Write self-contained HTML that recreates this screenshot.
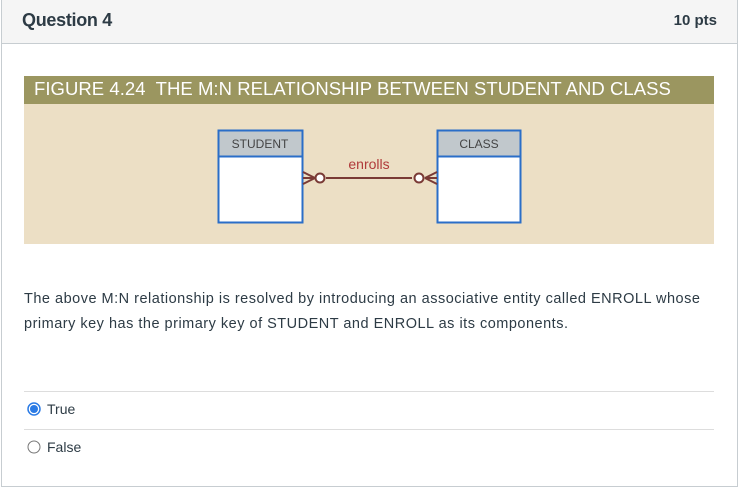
<!DOCTYPE html>
<html><head><style>
body{margin:0;width:741px;height:488px;background:#fff;font-family:"Liberation Sans",sans-serif;position:relative;overflow:hidden}
.frame{position:absolute;left:1px;top:0;width:735px;height:486px;border:1px solid #c7cdd1;border-top:none;box-sizing:content-box}
.hdr{position:absolute;left:0;top:0;width:735px;height:43px;background:#f5f5f5;border-bottom:1px solid #c7cdd1}
.abs{position:absolute}
</style></head><body>
<div class="frame">
 <div class="hdr">
  <div class="abs" style="left:20px;top:10px;font-size:18px;font-weight:bold;color:#2d3b45;letter-spacing:-0.3px">Question 4</div>
  <div class="abs" style="right:20px;top:12px;font-size:15px;font-weight:bold;color:#2d3b45">10 pts</div>
 </div>
</div>
<div class="abs" style="left:24px;top:76px;width:690px;height:28px;background:#9b9660"></div>
<div class="abs" style="left:34px;top:78px;font-size:18.5px;color:#fff;letter-spacing:0.05px;white-space:nowrap">FIGURE 4.24&nbsp; THE M:N RELATIONSHIP BETWEEN STUDENT AND CLASS</div>
<div class="abs" style="left:24px;top:104px;width:690px;height:140px;background:#ecdfc5"></div>
<svg class="abs" style="left:0;top:0" width="741" height="488">
 <rect x="218.5" y="130.5" width="84" height="92" fill="#fff" stroke="#2a6ec8" stroke-width="2"/>
 <rect x="218.5" y="130.5" width="84" height="26" fill="#c1c8cc" stroke="#2a6ec8" stroke-width="2"/>
 <text x="260" y="148" font-size="12" text-anchor="middle" fill="#444" font-family="Liberation Sans">STUDENT</text>
 <rect x="437.5" y="130.5" width="83" height="92" fill="#fff" stroke="#2a6ec8" stroke-width="2"/>
 <rect x="437.5" y="130.5" width="83" height="26" fill="#c1c8cc" stroke="#2a6ec8" stroke-width="2"/>
 <text x="479" y="148" font-size="12" text-anchor="middle" fill="#444" font-family="Liberation Sans">CLASS</text>
 <g stroke="#7a3a35" stroke-width="2" fill="none">
  <line x1="326" y1="178" x2="412" y2="178"/>
  <line x1="303" y1="178" x2="315" y2="178"/>
  <line x1="303" y1="172" x2="315" y2="178"/><line x1="303" y1="184" x2="315" y2="178"/>
  <circle cx="320" cy="178" r="4.5" fill="#fff"/>
  <line x1="425" y1="178" x2="437" y2="178"/>
  <line x1="437" y1="172" x2="425" y2="178"/><line x1="437" y1="184" x2="425" y2="178"/>
  <circle cx="419" cy="178" r="4.5" fill="#fff"/>
 </g>
 <text x="369" y="169" font-size="14" text-anchor="middle" fill="#b03a3a" font-family="Liberation Sans">enrolls</text>
 <line x1="24" y1="391.5" x2="714" y2="391.5" stroke="#ddd"/>
 <line x1="24" y1="429.5" x2="714" y2="429.5" stroke="#ddd"/>
 <circle cx="34" cy="409" r="6" fill="#fff" stroke="#2b7be5" stroke-width="1.5"/>
 <circle cx="34" cy="409" r="4" fill="#2b7be5"/>
 <circle cx="34" cy="447" r="6" fill="#fff" stroke="#777" stroke-width="1"/>
</svg>
<div class="abs" style="left:24px;top:287px;width:700px;font-size:14.5px;letter-spacing:0.5px;line-height:25px;color:#2d3b45;white-space:nowrap">The above M:N relationship is resolved by introducing an associative entity called ENROLL whose<br>primary key has the primary key of STUDENT and ENROLL as its components.</div>
<div class="abs" style="left:47px;top:401px;font-size:14px;color:#2d3b45">True</div>
<div class="abs" style="left:47px;top:439px;font-size:14px;color:#2d3b45">False</div>
</body></html>
